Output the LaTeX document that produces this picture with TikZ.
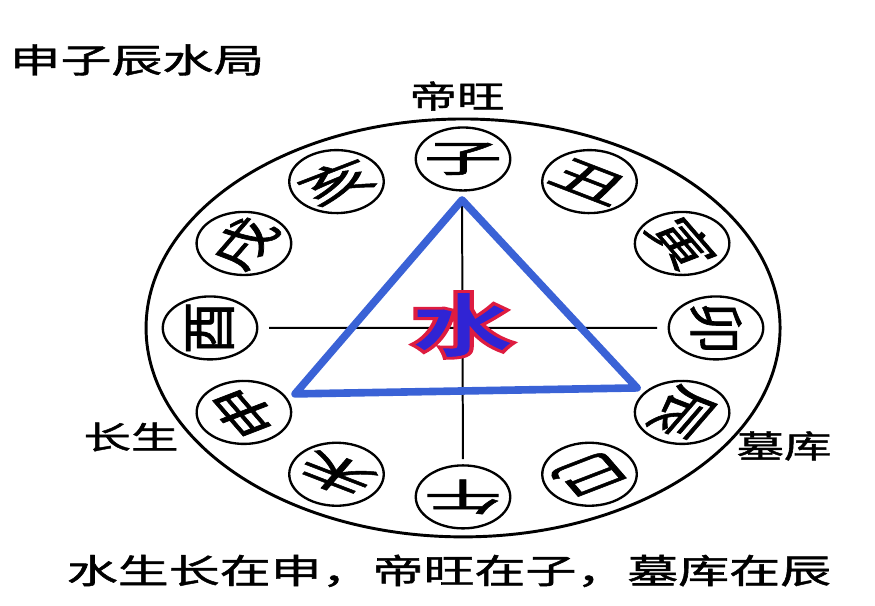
\documentclass[tikz,border=0pt]{standalone}
\usepackage{fontspec}
\setmainfont{Noto Sans CJK SC}
\newfontfamily\labelfont{Noto Sans CJK SC}[FakeBold=1.2]
\usepackage{xcolor}
\definecolor{trblue}{RGB}{58,98,214}
\definecolor{shuiblue}{RGB}{48,36,212}
\definecolor{shuired}{RGB}{222,28,64}
\newcommand{\outlined}[1]{{\color{shuiblue}\special{pdf:literal direct 2 Tr 2.4 w 0.87 0.11 0.25 RG}#1\special{pdf:literal direct 0 Tr}}}

\begin{document}
\begin{tikzpicture}[xscale=1.5, x=0.02cm, y=0.03cm,
  every node/.style={transform shape},
  branch/.style={draw,circle,line width=2pt,minimum size=1.89cm,inner sep=0pt,font=\labelfont\fontsize{32}{32}\selectfont},
  tag/.style={font=\labelfont\fontsize{27}{27}\selectfont},
  heading/.style={font=\labelfont\fontsize{29}{29}\selectfont},
  axis/.style={line width=1.7pt},
  rim/.style={line width=2.5pt},
  tri/.style={trblue,line width=6.5pt,line join=round}]
  \useasboundingbox (0,0) rectangle (875,-606);
  % Outer ring
  \coordinate (ctr) at (463,-328);
  \draw[rim] (ctr) ellipse [x radius=317, y radius=209];
  % Earthly branches
  \foreach \br/\nm [count=\i from 0] in {子/zi,丑/chou,寅/yin,卯/mao,辰/chen,巳/si,午/wu,未/wei,申/shen,酉/you,戌/xu,亥/hai}
    \node[branch,rotate=-30*\i] (\nm) at ({463+253*cos(90-30*\i)},{-328+169*sin(90-30*\i)}) {\scalebox{1.4}[1]{\br}};
  % Triangle corners
  \coordinate (apex) at (462,-200);
  \coordinate (lft) at (295,-394);
  \coordinate (rgt) at (637,-388);
  % Cross
  \draw[axis,shorten <=0.3cm,shorten >=0.3cm] (you) -- (mao);
  \draw[axis,shorten >=0.15cm] (apex) -- (wu);
  % Water triangle
  \draw[tri] (apex) -- (lft) -- (rgt) -- cycle;
  \node[font=\fontsize{60}{60}\selectfont\bfseries] (shui) at (463,-325) {\outlined{水}};
  % Labels
  \node[heading] (title) at (137,-60) {申子辰水局};
  \node[tag] (diwang) at (457,-96) {帝旺};
  \node[tag] (changsheng) at (131,-437) {长生};
  \node[tag] (muku) at (784,-446) {墓库};
  \node[heading] (rule) at (449,-571) {水生长在申，帝旺在子，墓库在辰};
\end{tikzpicture}
\end{document}
